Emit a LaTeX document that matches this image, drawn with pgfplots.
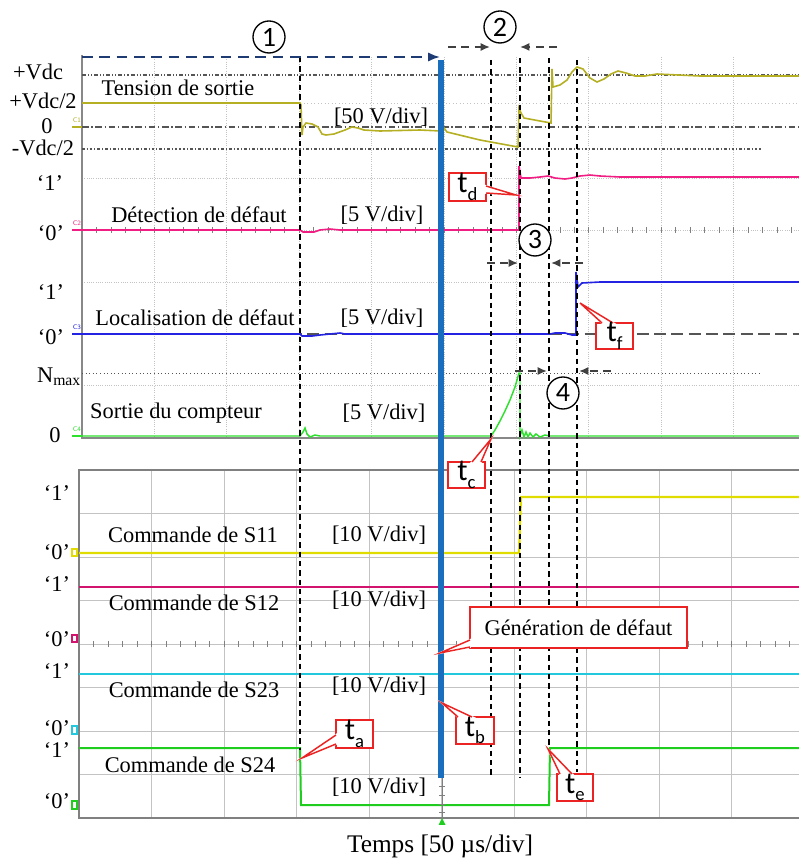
\documentclass[border=0pt]{standalone}
\usepackage{pgfplots}
\pgfplotsset{compat=1.18}
\usepackage{fontspec}
\setmainfont{Liberation Serif}
\newfontfamily\calib{Carlito}
\usetikzlibrary{arrows.meta,calc}

\definecolor{cOne}{RGB}{180,175,35}
\definecolor{cTwo}{RGB}{240,30,130}
\definecolor{cThree}{RGB}{35,35,225}
\definecolor{cFour}{RGB}{45,225,45}
\definecolor{sOne}{RGB}{225,220,0}
\definecolor{sTwo}{RGB}{210,20,110}
\definecolor{sThree}{RGB}{35,200,220}
\definecolor{sFour}{RGB}{30,205,30}
\definecolor{bline}{RGB}{25,110,190}
\definecolor{navy}{RGB}{30,60,115}
\definecolor{callred}{RGB}{235,35,35}
\definecolor{gridg}{RGB}{195,195,195}
\definecolor{refg}{RGB}{85,85,85}

\tikzset{px/.style={x=0.75pt,y=-0.75pt,yshift=645.75pt}}
\newcommand{\lbl}{\fontsize{16.8}{19}\selectfont}
\newcommand{\tfont}{\calib\fontsize{23}{25}\selectfont}
\newcommand{\sub}[1]{\raisebox{-0.25em}{\fontsize{14}{14}\selectfont #1}}
\newcommand{\callbox}[6]{%
  \draw[callred, fill=white, line width=1.1pt] #1 rectangle #2;
  \filldraw[white, line width=1.4pt] #3 -- #5 -- #4 -- cycle;
  \draw[callred, line width=1.1pt] #3 -- #5 -- #4;
  \node[font=\tfont, inner sep=0pt] at ($#1!0.5!#2$) {#6};
}

\begin{document}
\begin{tikzpicture}
% ---------------- background grids ----------------
\begin{scope}[px]
  % upper panel
  \foreach \i in {1,...,9} \draw[gridg, densely dotted, line width=0.7pt] ({82+72.4*\i},57) -- ({82+72.4*\i},438);
  \foreach \yy in {178,230,282,385} \draw[gridg, densely dotted, line width=0.7pt] (82,\yy) -- (799,\yy);
  \draw[gridg, dotted, line width=0.6pt] (82,103) -- (799,103);
  \draw[gridg!70!black, line width=0.8pt] (82,55) -- (82,438) -- (799,438);
  \foreach \k in {1,...,49} \draw[gray, line width=0.5pt] ({82+14.48*\k},227) -- ({82+14.48*\k},233);
  \draw[refg, line width=0.8pt, dash pattern=on 3pt off 1.5pt on 0.8pt off 1.5pt on 0.8pt off 1.5pt] (82,75) -- (799,75);
  \draw[refg, line width=0.9pt, dash pattern=on 5pt off 2pt on 1pt off 2pt] (82,127) -- (799,127);
  \draw[refg, line width=0.8pt, dash pattern=on 2pt off 1.5pt on 0.8pt off 1.5pt] (82,149) -- (762,149);
  \draw[refg, line width=0.9pt, dash pattern=on 9pt off 4pt] (82,334) -- (799,334);
  \draw[refg, line width=0.7pt, dotted] (82,373) -- (762,373);
  % lower panel
  \foreach \i in {1,...,9} \draw[gridg, line width=0.7pt] ({79+72.5*\i},470) -- ({79+72.5*\i},818);
  \foreach \j in {1,...,7} \draw[gridg, line width=0.7pt] (79,{470+43.5*\j}) -- (799,{470+43.5*\j});
  \draw[gray, line width=0.9pt] (799,470) -- (79,470) -- (79,818) -- (799,818);
  \foreach \k in {1,...,49} \draw[gray, line width=0.5pt] ({79+14.5*\k},641) -- ({79+14.5*\k},647);
\end{scope}

% ---------------- traces ----------------
\begin{axis}[at={(0,645.75pt)}, anchor=origin, scale only axis,
  width=599.25pt, height=645.75pt,
  xmin=0, xmax=799, ymin=0, ymax=861, y dir=reverse,
  hide axis, clip=false]
% Tension de sortie
\addplot[cOne, line width=1.2pt] coordinates {(82,103)(300,103)(301,105)(302,135)(303,127)(306,123)(312,124)(318,127)(322,134)(326,135)(334,134)(345,130)(352,127)(358,128)(364,130)(380,131)(420,130)(441,131)(444,128)(447,132)(480,140)(518,147)(519,108)(521,113)(524,118)(540,121)(551,123)(552,69)(553,87)(560,85)(567,80)(572,72)(577,67)(583,69)(590,78)(597,82)(604,79)(611,74)(618,71)(626,73)(635,76)(645,76)(657,74)(700,76)(799,76)};
% Detection de defaut
\addplot[cTwo, line width=1.2pt] coordinates {(82,230)(300,230)(303,232)(314,232)(320,230)(330,229)(340,230)(519,230)(519,166)(521,178)(530,178)(540,177)(548,176)(555,178)(565,179)(572,178)(580,176)(590,175)(600,176)(620,177)(799,177)};
% Localisation de defaut
\addplot[cThree, line width=1.2pt] coordinates {(82,334)(300,334)(302,336)(312,336)(320,335)(330,334)(340,333)(345,334)(550,334)(555,333)(565,333)(572,335)(576,335)(576,272)(578,287)(582,283)(600,282)(799,282)};
% Sortie du compteur
\addplot[cFour, line width=1.1pt] coordinates {(82,436)(300,436)(303,432)(305,428)(307,434)(310,437)(315,435)(320,436)(491,436)(495,430)(500,421)(505,411)(510,400)(515,387)(519,373)(520,373)(520,436)(522,430)(524,437)(526,432)(528,437)(530,433)(533,437)(536,434)(540,437)(545,435)(550,436)(799,436)};
% Commandes
\addplot[sOne, line width=1.7pt] coordinates {(79,553)(519,553)(521,497)(799,497)};
\addplot[sTwo, line width=1.7pt] coordinates {(79,587)(799,587)};
\addplot[sThree, line width=1.7pt] coordinates {(79,674)(799,674)};
\addplot[sFour, line width=1.5pt] coordinates {(79,748)(300,748)(301,805)(549,805)(550,748)(799,748)};
\end{axis}

% ---------------- annotations ----------------
\begin{scope}[px]
  % channel markers
  \node[font=\sffamily\fontsize{5}{5}\selectfont, text=cOne] at (77,120) {C1};
  \draw[cOne, line width=1pt] (72,127) -- (82,127);
  \node[font=\sffamily\fontsize{5}{5}\selectfont, text=cTwo] at (77,223) {C2};
  \draw[cTwo, line width=1pt] (72,230) -- (82,230);
  \node[font=\sffamily\fontsize{5}{5}\selectfont, text=cThree] at (77,327) {C3};
  \draw[cThree, line width=1pt] (72,334) -- (82,334);
  \node[font=\sffamily\fontsize{5}{5}\selectfont, text=cFour] at (77,429) {C4};
  \draw[cFour, line width=1pt] (72,436) -- (82,436);
  \draw[sOne, line width=0.8pt] (72,549) rectangle (77,556);
  \draw[sTwo, line width=0.8pt] (72,635) rectangle (77,642);
  \draw[sThree, line width=0.8pt] (72,726) rectangle (77,734);
  \draw[sFour, line width=0.8pt] (72,801) rectangle (77,809);

  % vertical dashed lines
  \draw[black, line width=0.9pt, dash pattern=on 4pt off 3pt] (300,57) -- (300,750);
  \draw[black, line width=0.9pt, dash pattern=on 4pt off 3pt] (491,60) -- (491,778);
  \draw[black, line width=0.9pt, dash pattern=on 4pt off 3pt] (520,58) -- (520,778);
  \draw[black, line width=0.9pt, dash pattern=on 4pt off 3pt] (549,58) -- (549,749);
  \draw[black, line width=0.9pt, dash pattern=on 4pt off 3pt] (577,60) -- (577,772);

  % fault generation line
  \draw[gray, line width=0.7pt] (442,778) -- (442,818);
  \foreach \k in {1,...,4} \draw[gray, line width=0.5pt] (439,{778+8.7*\k}) -- (445,{778+8.7*\k});
  \fill[sFour] (438.5,825) -- (445.5,825) -- (442,818) -- cycle;
  \draw[bline, line width=3.8pt] (441,60) -- (441,778);

  % region arrows
  \draw[navy, line width=1.5pt, dash pattern=on 8pt off 5pt, -{Latex[length=9pt,width=7pt]}] (82,57) -- (440,57);
  \draw[black!75, line width=1.2pt, dash pattern=on 6pt off 4pt, -{Latex[length=7pt,width=6pt]}] (448,47) -- (490,47);
  \draw[black!75, line width=1.2pt, dash pattern=on 6pt off 4pt, -{Latex[length=7pt,width=6pt]}] (557,47) -- (520,47);
  \draw[black!75, line width=1.2pt, dash pattern=on 6pt off 4pt, -{Latex[length=7pt,width=6pt]}] (487,263) -- (518,263);
  \draw[black!75, line width=1.2pt, dash pattern=on 6pt off 4pt, -{Latex[length=7pt,width=6pt]}] (583,263) -- (551,263);
  \draw[black!75, line width=1.2pt, dash pattern=on 6pt off 4pt, -{Latex[length=7pt,width=6pt]}] (515,371) -- (547,371);
  \draw[black!75, line width=1.2pt, dash pattern=on 6pt off 4pt, -{Latex[length=7pt,width=6pt]}] (611,371) -- (579,371);

  % circled numbers
  \foreach \cx/\cy/\n in {269/37/1, 500/27/2, 535/240/3, 563/393/4}
    \node[draw, circle, line width=1pt, minimum size=24pt, inner sep=0pt, fill=white, font=\calib\fontsize{21}{21}\selectfont] at (\cx,\cy) {\n};

  % left level labels
  \node[font=\lbl] at (38,72) {+Vdc};
  \node[font=\lbl] at (43,101) {+Vdc/2};
  \node[font=\lbl] at (47,126) {0};
  \node[font=\lbl] at (43,148) {-Vdc/2};
  \node[font=\lbl] at (50,183) {‘1’};
  \node[font=\lbl] at (51,233) {‘0’};
  \node[font=\lbl] at (51,292) {‘1’};
  \node[font=\lbl] at (51,337) {‘0’};
  \node[font=\lbl] at (59,377) {N\textsubscript{max}};
  \node[font=\lbl] at (55,435) {0};
  \node[font=\lbl] at (57,493) {‘1’};
  \node[font=\lbl] at (57,552) {‘0’};
  \node[font=\lbl] at (57,584) {‘1’};
  \node[font=\lbl] at (57,639) {‘0’};
  \node[font=\lbl] at (57,671) {‘1’};
  \node[font=\lbl] at (57,728) {‘0’};
  \node[font=\lbl] at (57,750) {‘1’};
  \node[font=\lbl] at (57,801) {‘0’};

  % signal names and scales
  \node[font=\lbl] at (178,88) {Tension de sortie};
  \node[font=\lbl] at (381,117) {[50 V/div]};
  \node[font=\lbl] at (199,215) {Détection de défaut};
  \node[font=\lbl] at (382,215) {[5 V/div]};
  \node[font=\lbl] at (195,318) {Localisation de défaut};
  \node[font=\lbl] at (382,318) {[5 V/div]};
  \node[font=\lbl] at (176,413) {Sortie du compteur};
  \node[font=\lbl] at (384,413) {[5 V/div]};
  \node[font=\lbl] at (193,535) {Commande de S11};
  \node[font=\lbl] at (379,535) {[10 V/div]};
  \node[font=\lbl] at (194,603) {Commande de S12};
  \node[font=\lbl] at (379,600) {[10 V/div]};
  \node[font=\lbl] at (194,690) {Commande de S23};
  \node[font=\lbl] at (379,686) {[10 V/div]};
  \node[font=\lbl] at (190,765) {Commande de S24};
  \node[font=\lbl] at (379,787) {[10 V/div]};
  \node[font=\fontsize{19}{22}\selectfont] at (440,846) {Temps [50 µs/div]};

  % callouts
  \callbox{(449,173)}{(486,201)}{(486,186)}{(486,193)}{(516,195)}{t\sub{d}}
  \callbox{(596,323)}{(633,349)}{(602,323)}{(613,323)}{(580,303)}{t\sub{f}}
  \callbox{(448,462)}{(485,488)}{(472,462)}{(481,462)}{(491,439)}{t\sub{c}}
  \callbox{(336,720)}{(373,748)}{(336,735)}{(336,744)}{(302,758)}{t\sub{a}}
  \callbox{(456,717)}{(494,744)}{(458,717)}{(472,717)}{(442,703)}{t\sub{b}}
  \callbox{(557,774)}{(593,801)}{(560,774)}{(572,774)}{(548,749)}{t\sub{e}}
  \draw[callred, fill=white, line width=1.1pt] (470,607) rectangle (687,648);
  \filldraw[white, line width=1.4pt] (470,640) -- (440,653) -- (470,647) -- cycle;
  \draw[callred, line width=1.1pt] (470,640) -- (440,653) -- (470,647);
  \node[font=\lbl] at (578.5,627.5) {Génération de défaut};
\end{scope}
\pgfresetboundingbox
\path[px] (0,0) rectangle (799,861);
\end{tikzpicture}
\end{document}
